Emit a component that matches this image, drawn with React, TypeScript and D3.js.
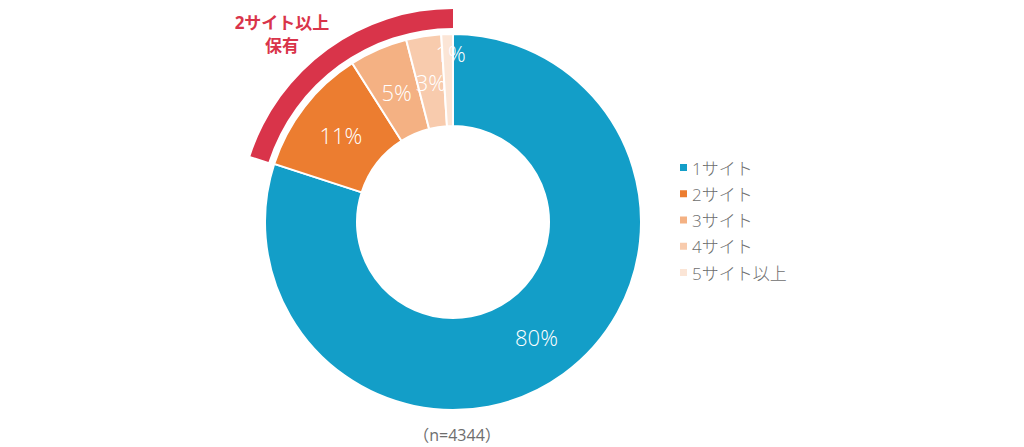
import React from "react";
import * as d3 from "d3";

const categories = ["1サイト", "2サイト", "3サイト", "4サイト", "5サイト以上"];
const values = [80, 11, 5, 3, 1];
const valueLabels = ["80%", "11%", "5%", "3%", "1%"];
const colors = ["#139ec8", "#ec7d30", "#f4b183", "#f8cbad", "#fbe5d6"];
const highlightLabel = ["2サイト以上", "保有"];
const sampleNote = "（n=4344）";

const W = 1024;
const H = 447;
const cx = 453;
const cy = 222;
const outerR = 188;
const innerR = 96;

export default function App() {
  const pie = d3.pie<number>().sort(null).value((d) => d)(values);
  const arc = d3.arc<d3.PieArcDatum<number>>().innerRadius(innerR).outerRadius(outerR);
  const labelArc = d3.arc<d3.PieArcDatum<number>>().innerRadius(142).outerRadius(142);
  const outerLabelArc = d3.arc<d3.PieArcDatum<number>>().innerRadius(169).outerRadius(169);

  const hlStart = pie[1].startAngle;
  const hlEnd = pie[4].endAngle;
  const hlArc = d3.arc()({
    innerRadius: 194,
    outerRadius: 213,
    startAngle: hlStart,
    endAngle: hlEnd,
  } as any) as string;

  const legendY = d3.scalePoint<string>().domain(categories).range([168, 273]);
  const font = "'Open Sans', 'Noto Sans CJK JP', sans-serif";

  return (
    <svg width={W} height={H} style={{ position: "absolute", left: 0, top: 0 }}>
      <rect width={W} height={H} fill="#fff" />
      <g transform={`translate(${cx},${cy})`}>
        {pie.map((p, i) => (
          <path key={i} d={arc(p) as string} fill={colors[i]} stroke="#fff" strokeWidth={2} />
        ))}
        <path d={hlArc} fill="#d9344a" />
        {pie.map((p, i) => {
          const [x, y] = i === 4 ? outerLabelArc.centroid(p) : labelArc.centroid(p);
          return (
            <text
              key={i}
              x={i === 4 ? x + 3 : x}
              y={y}
              textAnchor="middle"
              dominantBaseline="central"
              fill="#fff"
              fontSize={22}
              fontWeight={300}
              fontFamily={font}
            >
              {valueLabels[i]}
            </text>
          );
        })}
      </g>
      {highlightLabel.map((t, i) => (
        <text
          key={i}
          x={282}
          y={22 + i * 23}
          textAnchor="middle"
          dominantBaseline="central"
          fill="#d9344a"
          fontSize={17}
          fontWeight={700}
          fontFamily={font}
        >
          {t}
        </text>
      ))}
      {categories.map((c, i) => (
        <g key={c} transform={`translate(680,${legendY(c)})`}>
          <rect x={0} y={-4} width={7} height={7} fill={colors[i]} />
          <text
            x={12}
            y={0}
            dominantBaseline="central"
            fill="#6e6e6e"
            fontSize={17}
            fontFamily={font}
            fontWeight={300}
          >
            {c}
          </text>
        </g>
      ))}
      <text
        x={cx + 4}
        y={435}
        textAnchor="middle"
        dominantBaseline="central"
        fill="#6e6e6e"
        fontSize={16}
        fontFamily={font}
      >
        {sampleNote}
      </text>
    </svg>
  );
}
